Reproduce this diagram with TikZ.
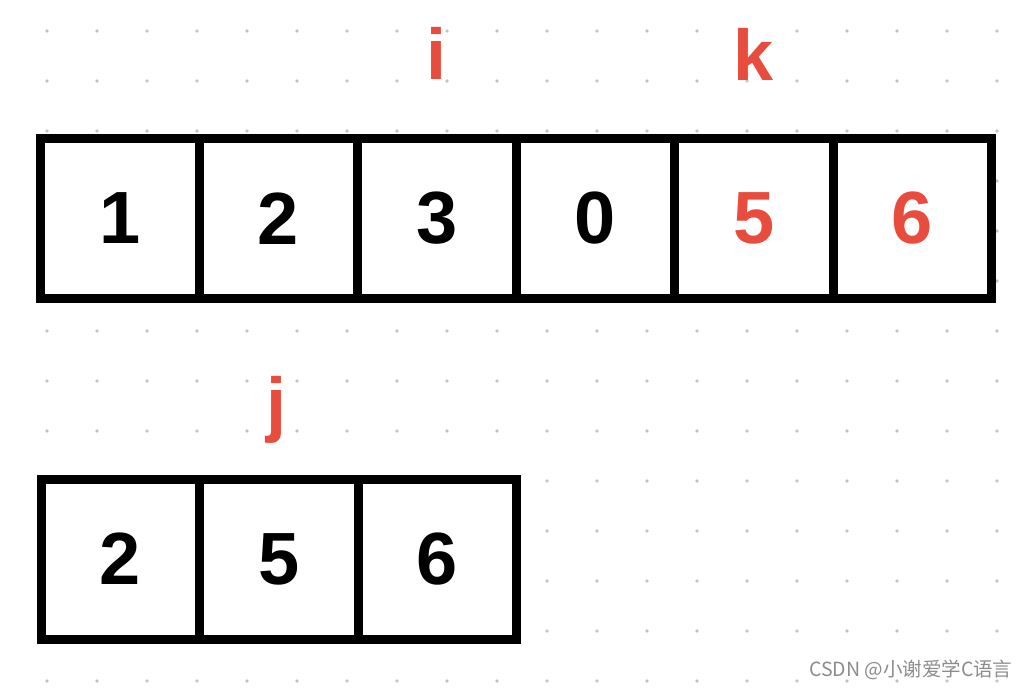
\documentclass[tikz,border=0pt]{standalone}
\usepackage{fontspec}
\setmainfont{Liberation Sans}
\newfontfamily\cjk{Noto Sans CJK SC}
\usetikzlibrary{positioning}
\definecolor{ptrred}{RGB}{232,76,61}
\definecolor{dotgray}{RGB}{196,196,196}

\begin{document}
\begin{tikzpicture}[x=1pt,y=-1pt,
	cell/.style={rectangle,draw=black,fill=white,line width=9pt,outer sep=0pt,inner sep=0pt,
		minimum width=158.5pt,minimum height=160pt,font=\fontsize{74}{74}\selectfont\bfseries},
	hot/.style={cell,text=ptrred},
	ptr/.style={anchor=base,text=ptrred,font=\fontsize{72}{72}\selectfont\bfseries},
	node distance = 0pt]
	\useasboundingbox (0,0) rectangle (1032,689);
	% dot grid
	\foreach \x in {0,...,19}
		\foreach \y in {0,...,13}
			\fill[dotgray] (47+50*\x,31+50*\y) circle (1.8pt);
	% first array
	\node[cell] (a1) at (119.75,218.5){1};
	\node[cell] (a2)[right = of a1]{2};
	\node[cell] (a3)[right = of a2]{3};
	\node[cell] (a4)[right = of a3]{0};
	\node[hot] (a5)[right = of a4]{5};
	\node[hot] (a6)[right = of a5]{6};
	% second array
	\node[cell] (b1) at (120.25,559){2};
	\node[cell] (b2)[right = of b1]{5};
	\node[cell] (b3)[right = of b2]{6};
	% pointers
	\node[ptr] (i) at ([yshift=59.5pt]a3.north){i};
	\node[ptr] (k) at ([yshift=58.5pt]a5.north){k};
	\node[ptr] (j) at ([xshift=-2pt,yshift=51pt]b2.north){j};
	% watermark
	\node[anchor=east,text=black!45,font=\cjk\fontsize{19.5}{19.5}\selectfont] (mark) at (1016,670){CSDN @小谢爱学C语言};
\end{tikzpicture}
\end{document}
